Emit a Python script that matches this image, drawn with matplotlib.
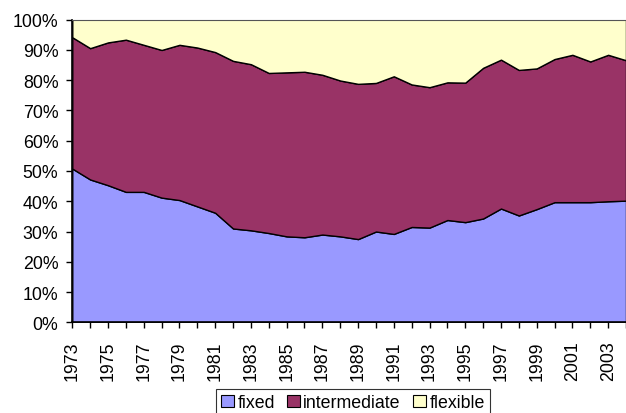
import matplotlib
matplotlib.use("Agg")
import matplotlib.pyplot as plt
from matplotlib.patches import Patch
import numpy as np

plt.rcParams['font.family'] = ['Liberation Sans', 'DejaVu Sans']

years = list(range(1973, 2005))
fixed = [50.8, 47.2, 45.3, 43.1, 43.1, 41.2, 40.4, 38.3, 36.2, 31.0, 30.4,
         29.5, 28.4, 28.1, 29.0, 28.4, 27.5, 30.0, 29.2, 31.5, 31.3, 33.8,
         33.1, 34.3, 37.6, 35.3, 37.4, 39.7, 39.7, 39.7, 40.0, 40.2]
intermediate = [43.4, 43.4, 47.2, 50.3, 48.6, 48.8, 51.3, 52.5, 53.1, 55.4, 54.9,
                52.9, 54.2, 54.7, 52.8, 51.5, 51.3, 49.1, 52.1, 47.1, 46.4, 45.5,
                46.1, 49.8, 49.2, 48.1, 46.5, 47.3, 48.7, 46.5, 48.4, 46.4]
flexible = [5.8, 9.4, 7.5, 6.6, 8.3, 10.0, 8.3, 9.2, 10.7, 13.6, 14.7,
            17.6, 17.4, 17.2, 18.2, 20.1, 21.2, 20.9, 18.7, 21.4, 22.3, 20.7,
            20.8, 15.9, 13.2, 16.6, 16.1, 13.0, 11.6, 13.8, 11.6, 13.4]
series_names = ['fixed', 'intermediate', 'flexible']
colors = ['#9999FF', '#993366', '#FFFFCC']
yticks = list(range(0, 101, 10))
ytick_labels = [f'{v}%' for v in yticks]
xtick_years = list(range(1973, 2004, 2))

FS = 12.8

fig = plt.figure(figsize=(6.26, 4.14), dpi=100)
ax = fig.add_axes([72.3 / 626, (414 - 323.3) / 414, 1 - 72.3 / 626, (323.3 - 20.7) / 414])

ax.stackplot(years, fixed, intermediate, flexible, colors=colors,
             edgecolor='black', linewidth=1.0)

ax.set_xlim(1973, 1973 + (626 - 72.3) / 18.17)
ax.set_ylim(0, 100)
ax.set_yticks(yticks)
ax.set_yticklabels(ytick_labels)
ax.set_xticks(years, minor=True)
ax.set_xticks(xtick_years)
ax.set_xticklabels([str(y) for y in xtick_years], rotation=90)

ax.tick_params(axis='both', which='both', direction='out', length=4, width=1,
               color='black', labelsize=FS)
ax.tick_params(axis='x', which='both', pad=9)
ax.tick_params(axis='y', which='both', pad=6)

ax.spines['right'].set_visible(False)
ax.spines['top'].set_color('#555555')
ax.spines['left'].set_color('black')
ax.spines['bottom'].set_color('black')
ax.spines['left'].set_linewidth(1.2)
ax.spines['bottom'].set_linewidth(1.2)

handles = [Patch(facecolor=c, edgecolor='black', linewidth=0.8) for c in colors]
leg = fig.legend(handles, series_names, loc='upper center',
                 bbox_to_anchor=(353 / 626, 1 - 390 / 414), ncol=3,
                 fontsize=FS, frameon=True, fancybox=False,
                 handlelength=0.7, handleheight=0.7, handletextpad=0.2,
                 columnspacing=0.7, borderpad=0.3, borderaxespad=0)
leg.get_frame().set_edgecolor('black')
leg.get_frame().set_linewidth(0.8)

fig.savefig('out.png', dpi=100)
